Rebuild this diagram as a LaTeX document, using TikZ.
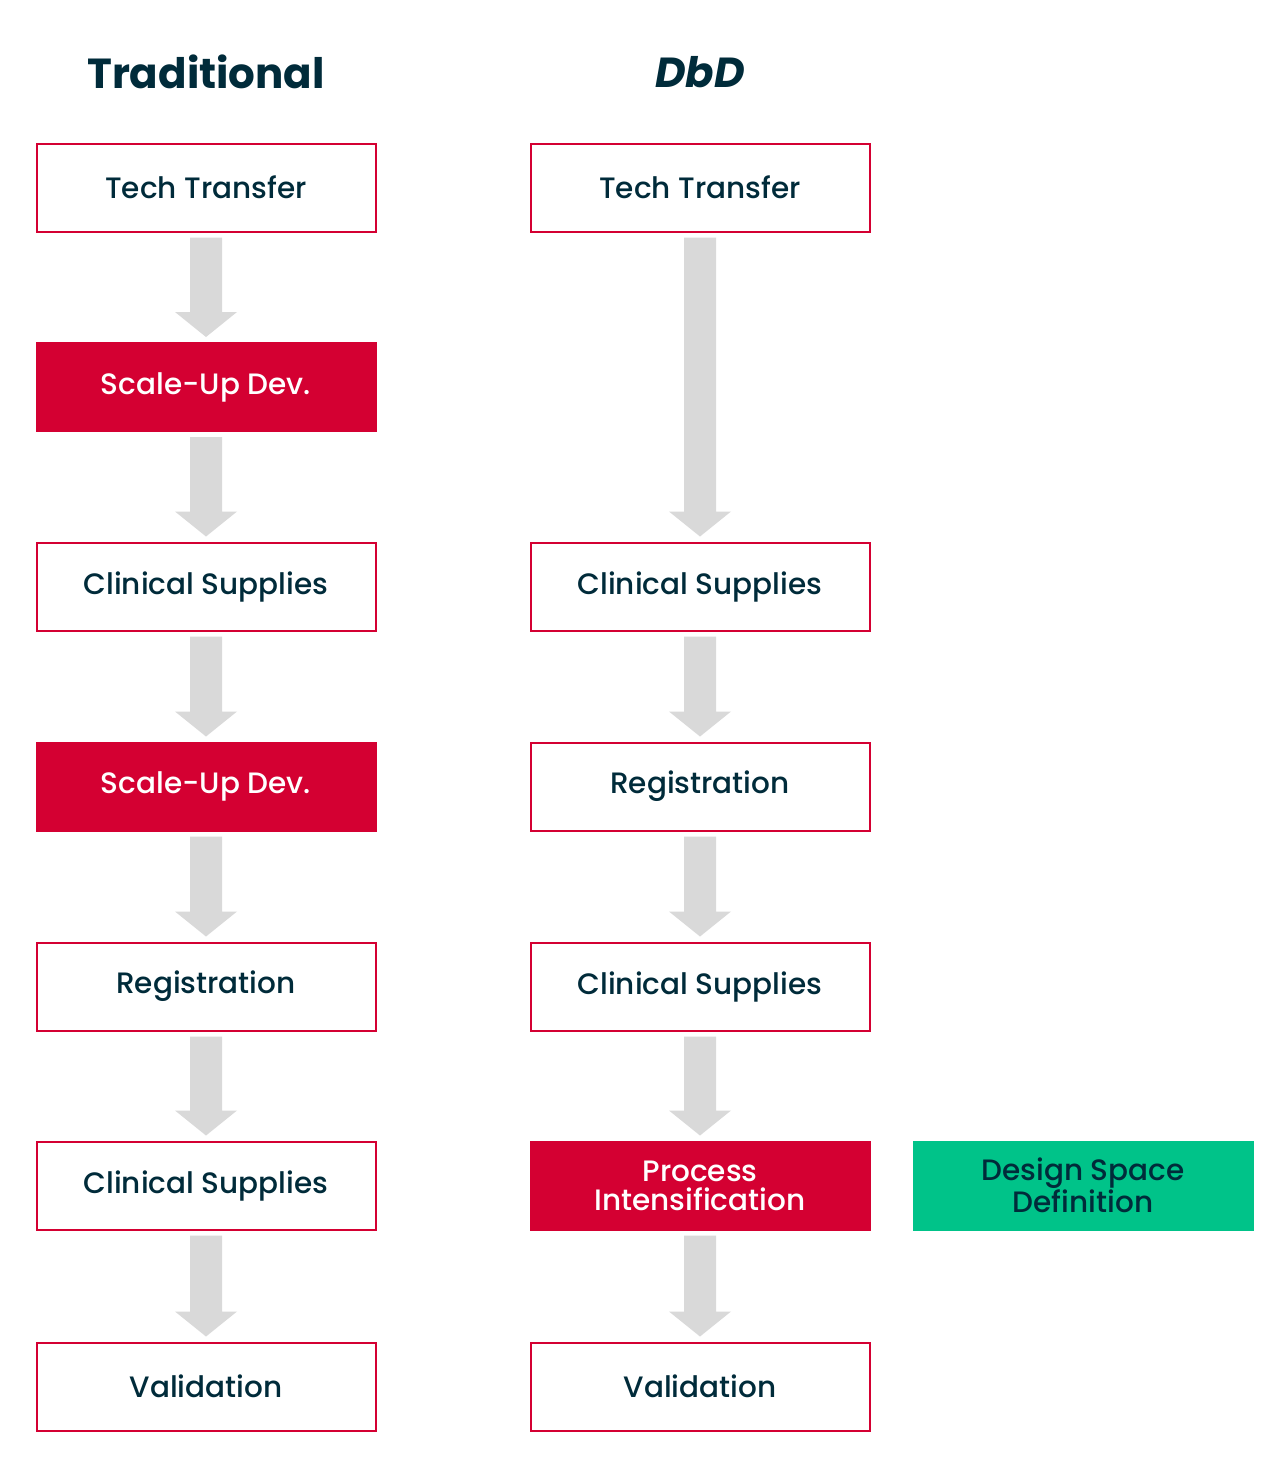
\documentclass[tikz,border=0pt]{standalone}
\usepackage{fontspec}
\setmainfont{Poppins}
\newfontfamily\medfont{Poppins Medium}
\usetikzlibrary{calc}
\definecolor{redc}{HTML}{D40032}
\definecolor{txt}{HTML}{002B3A}
\definecolor{greenc}{HTML}{00C389}
\definecolor{arrowgray}{HTML}{D9D9D9}
\tikzset{
  box/.style={draw=redc, line width=2pt, fill=white, minimum width=339pt, minimum height=88pt, inner sep=0pt, align=center, text=txt, font=\medfont\fontsize{29.5}{29}\selectfont},
  redbox/.style={box, fill=redc, text=white},
  greenbox/.style={box, draw=greenc, fill=greenc, text=txt},
  title/.style={text=txt, font=\fontsize{42}{42}\selectfont\bfseries},
}
\newcommand{\flowarrow}[2]{%
  \fill[arrowgray] ($(#1.south)+(-16,5)$) -- ($(#2.north)+(-16,-30)$) -- ($(#2.north)+(-31,-30)$) -- ($(#2.north)+(0,-5)$) -- ($(#2.north)+(31,-30)$) -- ($(#2.north)+(16,-30)$) -- ($(#1.south)+(16,5)$) -- cycle;}
\begin{document}
\begin{tikzpicture}[x=1pt,y=-1pt]
\useasboundingbox[fill=white] (0,0) rectangle (1280,1457);
\node[title] (t1) at (206,72) {Traditional};
\node[title] (t2) at (700,72) {\itshape DbD};
\node[box] (a1) at (206,187.5) {Tech Transfer};
\node[redbox] (a2) at (206,387) {Scale-Up Dev.};
\node[box] (a3) at (206,586.5) {Clinical Supplies};
\node[redbox] (a4) at (206,786.5) {Scale-Up Dev.};
\node[box] (a5) at (206,986.5) {Registration};
\node[box] (a6) at (206,1185.5) {Clinical Supplies};
\node[box] (a7) at (206,1386.5) {Validation};
\node[box] (b1) at (700,187.5) {Tech Transfer};
\node[box] (b3) at (700,586.5) {Clinical Supplies};
\node[box] (b4) at (700,786.5) {Registration};
\node[box] (b5) at (700,986.5) {Clinical Supplies};
\node[redbox] (b6) at (700,1185.5) {Process\\Intensification};
\node[box] (b7) at (700,1386.5) {Validation};
\node[greenbox] (g) at (1083,1185.5) {Design Space\\Definition};
\flowarrow{a1}{a2}
\flowarrow{a2}{a3}
\flowarrow{a3}{a4}
\flowarrow{a4}{a5}
\flowarrow{a5}{a6}
\flowarrow{a6}{a7}
\flowarrow{b1}{b3}
\flowarrow{b3}{b4}
\flowarrow{b4}{b5}
\flowarrow{b5}{b6}
\flowarrow{b6}{b7}
\end{tikzpicture}
\end{document}
